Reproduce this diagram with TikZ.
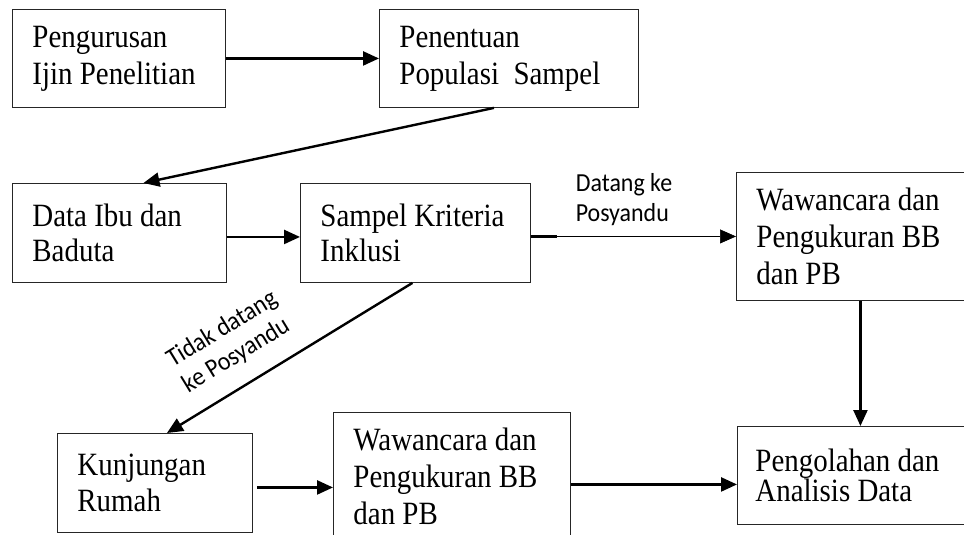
\documentclass[tikz,border=0pt]{standalone}
\usepackage{fontspec}
\setmainfont{Liberation Serif}[FakeStretch=0.89]
\newfontfamily\calibri{Carlito}[FakeStretch=0.92]
\usetikzlibrary{arrows.meta}

\begin{document}
\begin{tikzpicture}[x=1pt, y=-1pt,
  box/.style={draw=black!85, line width=0.9pt, anchor=north west, inner sep=0pt,
    align=flush left, font=\fontsize{32.5}{37}\selectfont},
  arr/.style={line width=2.4pt, -{Triangle[length=16pt,width=14pt]}},
  lbl/.style={font=\calibri\fontsize{26}{30}\selectfont, align=flush left}]
  \clip (0,0) rectangle (964,535);

  % Boxes
  \node[box, minimum width=213pt, minimum height=98pt, text width=173pt] (ijin) at (12,9) {Pengurusan\\Ijin Penelitian};
  \node[box, minimum width=259pt, minimum height=98pt, text width=219pt] (popul) at (379,9) {Penentuan\\Populasi\ \ Sampel};
  \node[box, minimum width=214pt, minimum height=99pt, text width=174pt, font=\fontsize{32.5}{35}\selectfont] (data) at (12,183) {Data Ibu dan\\Baduta};
  \node[box, minimum width=230pt, minimum height=99pt, text width=190pt, font=\fontsize{32.5}{35}\selectfont] (sampel) at (300,183) {Sampel Kriteria\\Inklusi};
  \node[box, minimum width=248pt, minimum height=128pt, text width=208pt] (wawan1) at (736,172) {Wawancara dan\\Pengukuran BB\\dan PB};
  \node[box, minimum width=246pt, minimum height=98pt, text width=210pt, font=\fontsize{32.5}{30}\selectfont] (olah) at (737,426) {Pengolahan dan\\Analisis Data};
  \node[box, minimum width=237pt, minimum height=128pt, text width=197pt] (wawan2) at (333,412) {Wawancara dan\\Pengukuran BB\\dan PB};
  \node[box, minimum width=195pt, minimum height=99pt, text width=155pt, font=\fontsize{32.5}{36}\selectfont] (kunjung) at (57,433) {Kunjungan\\Rumah};

  % Arrows
  \draw[arr] (ijin.east) -- (popul.west);
  \draw[arr] ([xshift=-15pt]popul.south) -- ([xshift=24pt]data.north);
  \draw[arr] ([yshift=-4pt]data.east) -- ([yshift=-4pt]sampel.west);
  \draw[line width=2.4pt] ([yshift=-3.5pt]sampel.east) -- ++(26,0);
  \draw[line width=0.6pt, -{Triangle[length=16pt,width=14pt]}] ([yshift=-3.5pt]sampel.east) coordinate (s4) -- (s4 -| wawan1.west);
  \draw[arr] (wawan1.south) -- (olah.north);
  \draw[arr] ([xshift=-3pt]sampel.south) -- ([xshift=12pt]kunjung.north);
  \draw[arr] ([xshift=4pt,yshift=-4.5pt]kunjung.east) coordinate (k7) -- (k7 -| wawan2.west);
  \coordinate (o6) at ([yshift=-9pt]olah.west);
  \draw[arr] (wawan2.east |- o6) -- (o6);

  % Labels
  \node[lbl] (datang) at (624,200) {Datang ke\\Posyandu};
  \node[lbl, rotate=31.5] (tidak) at (230,342) {Tidak datang\\ke Posyandu};
\end{tikzpicture}
\end{document}
